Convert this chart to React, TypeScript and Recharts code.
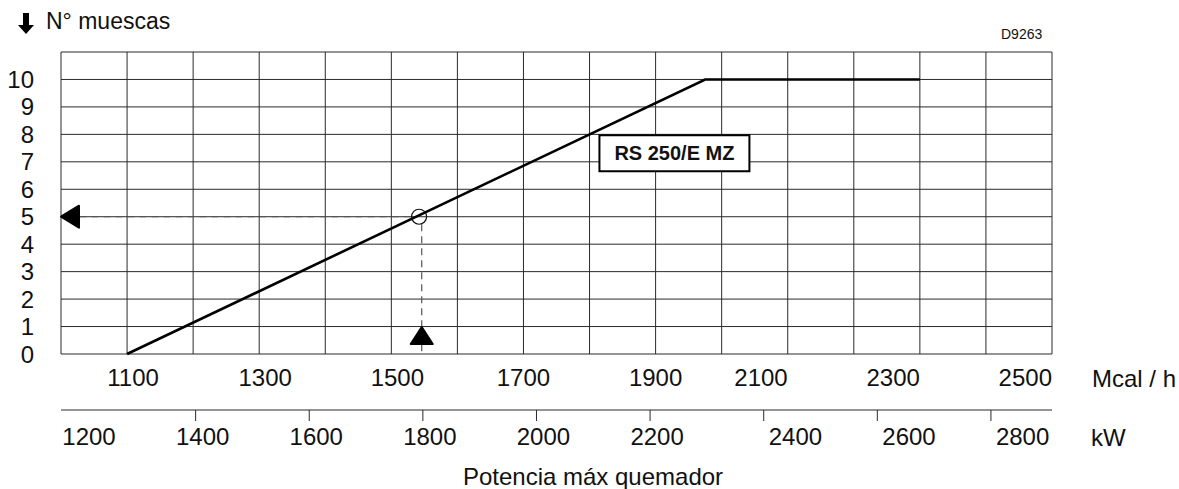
import React from 'react';
import {
  LineChart,
  Line,
  XAxis,
  YAxis,
  CartesianGrid,
  ReferenceLine,
  ReferenceDot,
  ReferenceArea,
} from 'recharts';

// burner curve: max output (Mcal/h) vs number of notches
const mcalPoints = [1100, 1975, 2300];
const notchValues = [0, 10, 10];

const mcalGrid = [1000, 1100, 1200, 1300, 1400, 1500, 1600, 1700, 1800, 1900, 2000, 2100, 2200, 2300, 2400, 2500];
const mcalLabels = [1100, 1300, 1500, 1700, 1900, 2100, 2300, 2500];
const notchTicks = [0, 1, 2, 3, 4, 5, 6, 7, 8, 9, 10, 11];
const notchLabels = [0, 1, 2, 3, 4, 5, 6, 7, 8, 9, 10];
const kwTicks = [1200, 1400, 1600, 1800, 2000, 2200, 2400, 2600, 2800];

// worked example: 1800 kW -> 5 notches
const exampleMcal = 1542;
const exampleNotches = 5;

const KW_PER_MCAL = 1.163;
const MCAL_MIN = 1000;
const MCAL_MAX = 2500;

const data = mcalPoints.map((m, i) => ({ mcal: m, notches: notchValues[i] }));
// secondary kW scale drawn on the same Mcal/h scale
const kwTickPos = kwTicks.map((k) => k / KW_PER_MCAL);

const FONT = '"Liberation Sans", Arial, sans-serif';
const GRID = '#2a2a2a';
const INK = '#111';

const McalTick = (props: any) => {
  const { x, y, payload } = props;
  const v = payload.value;
  if (!mcalLabels.includes(v)) return null;
  const end = v >= 2100;
  return (
    <text x={end ? x : x + (v <= 1500 ? 6 : 0)} y={y} dy="0.71em" textAnchor={end ? 'end' : 'middle'} fontSize={24} fill={INK} fontFamily={FONT}>
      {v}
    </text>
  );
};

const KwTick = (props: any) => {
  const { x, y, index } = props;
  const kw = kwTicks[index];
  const start = kw >= 2400;
  return (
    <g>
      {index > 0 && <line x1={x} y1={y - 18} x2={x} y2={y - 7} stroke={GRID} strokeWidth={1} />}
      <text x={start ? x + 5 : x + 7} y={y} dy="0.71em" textAnchor={start ? 'start' : 'middle'} fontSize={24} fill={INK} fontFamily={FONT}>
        {kw}
      </text>
    </g>
  );
};

const LeftArrow = (props: any) => {
  const { cx, cy } = props;
  return <path d={`M${cx},${cy} L${cx + 18},${cy - 11} L${cx + 18},${cy + 11} Z`} fill="#000" stroke="#000" strokeLinejoin="round" strokeWidth={2} />;
};

const UpArrow = (props: any) => {
  const { cx, cy } = props;
  return <path d={`M${cx},${cy} L${cx + 11},${cy + 17} L${cx - 11},${cy + 17} Z`} fill="#000" stroke="#000" strokeLinejoin="round" strokeWidth={2} />;
};

const Ring = (props: any) => {
  const { cx, cy } = props;
  return <circle cx={cx} cy={cy} r={7.5} fill="none" stroke={INK} strokeWidth={1.2} />;
};

export default function App() {
  return (
    <div style={{ position: 'absolute', left: 0, top: 0, width: 1179, height: 489, background: '#fff', fontFamily: FONT }}>
      <LineChart width={1179} height={489} data={data} margin={{ top: 52, right: 127, left: 0, bottom: 29 }}>
        <CartesianGrid stroke={GRID} strokeWidth={1} />
        <XAxis
          dataKey="mcal"
          type="number"
          domain={[MCAL_MIN, MCAL_MAX]}
          ticks={mcalGrid}
          interval={0}
          height={56}
          axisLine={false}
          tickLine={false}
          tickSize={0}
          tickMargin={15}
          tick={<McalTick />}
        />
        <XAxis
          xAxisId="kw"
          dataKey="mcal"
          type="number"
          domain={[MCAL_MIN, MCAL_MAX]}
          ticks={kwTickPos}
          interval={0}
          height={50}
          axisLine={{ stroke: GRID, strokeWidth: 1 }}
          tickLine={false}
          tickSize={11}
          tickMargin={7}
          tick={<KwTick />}
        />
        <YAxis
          type="number"
          domain={[0, 11]}
          ticks={notchTicks}
          interval={0}
          width={61}
          axisLine={false}
          tickLine={false}
          tickSize={0}
          tickMargin={27}
          tickFormatter={(v: number) => (notchLabels.includes(v) ? String(v) : '')}
          tick={{ fontSize: 24, fill: INK, fontFamily: FONT }}
        />
        <ReferenceLine
          segment={[{ x: MCAL_MIN + 28, y: exampleNotches }, { x: exampleMcal - 11, y: exampleNotches }]}
          stroke="#555"
          strokeWidth={1.2}
          strokeDasharray="7 5"
        />
        <ReferenceLine
          segment={[{ x: exampleMcal + 4, y: exampleNotches - 0.27 }, { x: exampleMcal + 4, y: 0 }]}
          stroke="#555"
          strokeWidth={1.2}
          strokeDasharray="7 5"
        />
        <ReferenceArea
          x1={1815}
          x2={2042}
          y1={6.66}
          y2={7.97}
          fill="#fff"
          fillOpacity={1}
          stroke="#000"
          strokeWidth={2}
          ifOverflow="visible"
          label={{ value: 'RS 250/E MZ', position: 'center', fontSize: 20, fontWeight: 'bold', fill: INK, fontFamily: FONT }}
        />
        <Line
          dataKey="notches"
          type="linear"
          stroke="#000"
          strokeWidth={2.6}
          dot={false}
          isAnimationActive={false}
        />
        <ReferenceDot x={MCAL_MIN} y={exampleNotches} shape={<LeftArrow />} ifOverflow="visible" />
        <ReferenceDot x={exampleMcal + 4} y={0.98} shape={<UpArrow />} ifOverflow="visible" />
        <ReferenceDot x={exampleMcal} y={exampleNotches} shape={<Ring />} ifOverflow="visible" />
      </LineChart>
      <svg width={1179} height={489} style={{ position: 'absolute', left: 0, top: 0, pointerEvents: 'none' }}>
        <path d="M23,13 L29,13 L29,25 L34,25 L26,34 L18,25 L23,25 Z" fill="#000" />
        <text x={46} y={29} fontSize={23} fill={INK} fontFamily={FONT}>N° muescas</text>
        <text x={1001} y={39} fontSize={14} fill={INK} fontFamily={FONT}>D9263</text>
        <text x={1092} y={387} fontSize={24} fill={INK} fontFamily={FONT}>Mcal / h</text>
        <text x={1091} y={446} fontSize={24} fill={INK} fontFamily={FONT}>kW</text>
        <text x={593} y={485} textAnchor="middle" fontSize={24} fill={INK} fontFamily={FONT}>Potencia máx quemador</text>
      </svg>
    </div>
  );
}
